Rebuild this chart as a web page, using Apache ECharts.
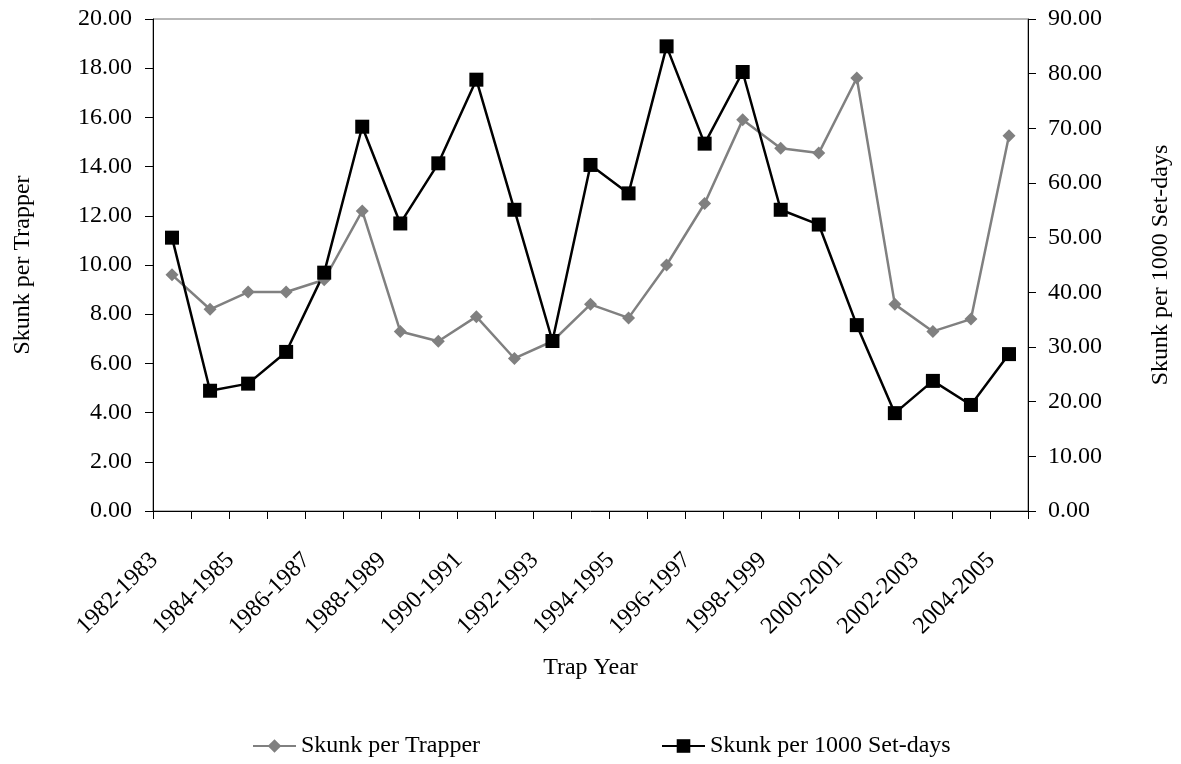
<!DOCTYPE html>
<html>
<head>
<meta charset="utf-8">
<script src="https://cdn.jsdelivr.net/npm/echarts@6/dist/echarts.min.js"></script>
<style>
html,body{margin:0;padding:0;background:#fff;}
#c{width:1181px;height:764px;}
</style>
</head>
<body>
<div id="c"></div>
<script>
var categories = ['1982-1983','1983-1984','1984-1985','1985-1986','1986-1987','1987-1988','1988-1989','1989-1990','1990-1991','1991-1992','1992-1993','1993-1994','1994-1995','1995-1996','1996-1997','1997-1998','1998-1999','1999-2000','2000-2001','2001-2002','2002-2003','2003-2004','2004-2005'];
var skunkPerTrapper = [9.6, 8.2, 8.9, 8.9, 9.4, 12.2, 7.3, 6.9, 7.9, 6.2, 6.9, 8.4, 7.85, 10.0, 12.5, 15.9, 14.75, 14.55, 17.6, 8.4, 7.3, 7.8, 15.25];
var skunkPer1000SetDays = [50.0, 22.0, 23.3, 29.1, 43.6, 70.3, 52.6, 63.6, 78.9, 55.1, 31.1, 63.3, 58.1, 85.0, 67.2, 80.3, 55.1, 52.4, 34.0, 17.9, 23.8, 19.4, 28.7];
var leftTicks = {min: 0, max: 20, interval: 2};
var rightTicks = {min: 0, max: 90, interval: 10};

var FONT = "'Liberation Serif', 'Times New Roman', serif";
var chart = echarts.init(document.getElementById('c'), null, {renderer: 'canvas'});
var axisText = {color: '#000', fontFamily: FONT, fontSize: 24};
chart.setOption({
  animation: false,
  backgroundColor: '#fff',
  grid: {left: 153, right: 153, top: 19, bottom: 253, show: true, borderColor: '#707070', borderWidth: 1},
  legend: [
    {data: ['Skunk per Trapper'], left: 247, top: 729, itemWidth: 43, itemHeight: 17,
     textStyle: {color: '#000', fontFamily: FONT, fontSize: 24}},
    {data: ['Skunk per 1000 Set-days'], left: 656, top: 729, itemWidth: 43, itemHeight: 17,
     textStyle: {color: '#000', fontFamily: FONT, fontSize: 24}}
  ],
  xAxis: {
    type: 'category',
    data: categories,
    boundaryGap: true,
    name: 'Trap Year',
    nameLocation: 'middle',
    nameGap: 145,
    nameTextStyle: axisText,
    axisLine: {lineStyle: {color: '#000', width: 1}},
    axisTick: {show: true, interval: 0, length: 8, inside: false, lineStyle: {color: '#000'}},
    axisLabel: Object.assign({interval: 1, rotate: 45, margin: 28, padding: [0, 25, 0, 0]}, axisText),
    splitLine: {show: false}
  },
  yAxis: [
    {
      type: 'value', position: 'left',
      min: leftTicks.min, max: leftTicks.max, interval: leftTicks.interval,
      name: 'Skunk per Trapper', nameLocation: 'middle', nameRotate: 90, nameGap: 118,
      nameTextStyle: axisText,
      axisLine: {show: true, lineStyle: {color: '#000', width: 1}},
      axisTick: {show: true, length: 8, lineStyle: {color: '#000'}},
      axisLabel: Object.assign({margin: 21, formatter: function (v) { return v.toFixed(2); }}, axisText),
      splitLine: {show: false}
    },
    {
      type: 'value', position: 'right',
      min: rightTicks.min, max: rightTicks.max, interval: rightTicks.interval,
      name: 'Skunk per 1000 Set-days', nameLocation: 'middle', nameRotate: 90, nameGap: 121,
      nameTextStyle: axisText,
      axisLine: {show: true, lineStyle: {color: '#000', width: 1}},
      axisTick: {show: true, length: 8, lineStyle: {color: '#000'}},
      axisLabel: Object.assign({margin: 20, formatter: function (v) { return v.toFixed(2); }}, axisText),
      splitLine: {show: false}
    }
  ],
  series: [
    {
      name: 'Skunk per Trapper', type: 'line', yAxisIndex: 0,
      data: skunkPerTrapper,
      symbol: 'diamond', symbolSize: 13,
      itemStyle: {color: '#808080'},
      lineStyle: {color: '#808080', width: 2.5}
    },
    {
      name: 'Skunk per 1000 Set-days', type: 'line', yAxisIndex: 1,
      data: skunkPer1000SetDays,
      symbol: 'rect', symbolSize: 14,
      itemStyle: {color: '#000'},
      lineStyle: {color: '#000', width: 2.5}
    }
  ]
});
</script>
</body>
</html>
